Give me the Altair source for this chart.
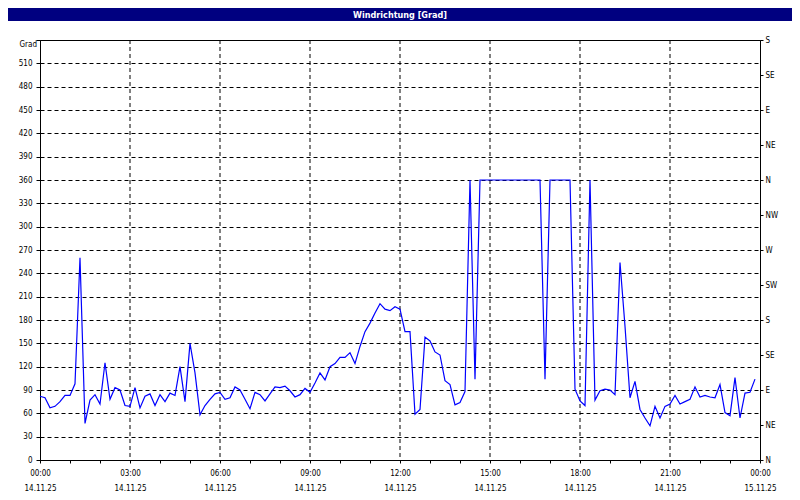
import json
import altair as alt
import pandas as pd

# ---- data (10-minute samples, 14.11.25 00:00 .. 23:50) ----
wind_dir = [
    82, 80, 67, 69, 75, 83, 83, 98, 260, 47,
    77, 84, 72, 125, 78, 93, 90, 70, 69, 93,
    67, 82, 85, 70, 84, 75, 86, 83, 120, 75,
    150, 112, 58, 70, 78, 85, 87, 78, 80, 94,
    90, 78, 66, 87, 84, 76, 85, 94, 93, 95,
    89, 81, 84, 92, 87, 99, 112, 103, 120, 124,
    132, 132, 138, 124, 146, 165, 176, 189, 201, 194,
    192, 197, 194, 165, 165, 59, 65, 158, 153, 139,
    135, 102, 97, 71, 74, 88, 360, 104, 360, 360,
    360, 360, 360, 360, 360, 360, 360, 360, 360, 360,
    360, 104, 360, 360, 360, 360, 360, 91, 76, 70,
    360, 77, 89, 91, 90, 84, 254, 172, 80, 101,
    65, 54, 44, 69, 54, 69, 72, 83, 72, 75,
    78, 94, 81, 83, 81, 80, 97, 61, 57, 106,
    54, 86, 87, 104,
]
step_minutes = 10
hours = [i * step_minutes / 60 for i in range(len(wind_dir))]

time_labels = ["00:00", "03:00", "06:00", "09:00", "12:00", "15:00", "18:00", "21:00", "00:00"]
date_labels = ["14.11.25"] * 8 + ["15.11.25"]
grid_hours = [3, 6, 9, 12, 15, 18, 21]
left_ticks = list(range(0, 541, 30))
right_ticks = list(range(0, 541, 45))
compass = ["N", "NE", "E", "SE", "S", "SW", "W", "NW", "N", "NE", "E", "SE", "S"]
title_text = "Windrichtung [Grad]"
unit_text = "Grad"

df = pd.DataFrame({"h": hours, "v": wind_dir})
grid_df = pd.DataFrame({"h": grid_hours})

FONT = "Liberation Sans Narrow, DejaVu Sans Condensed, Liberation Sans, sans-serif"
NAVY = "#000080"

x_label_expr = (
    "datum.value % 3 == 0 ? ["
    + json.dumps(time_labels) + "[datum.value/3], "
    + json.dumps(date_labels) + "[datum.value/3]] : ''"
)
right_label_expr = json.dumps(compass) + "[round(datum.value/45)]"

x_scale = alt.Scale(domain=[0, 24], nice=False, zero=False)
y_scale = alt.Scale(domain=[0, 540], nice=False)

x_axis = alt.Axis(
    values=list(range(25)), labelExpr=x_label_expr, tickSize=3, labelPadding=6,
    labelLineHeight=15, labelOverlap=False, labelFlush=False, labelAngle=0,
    labelBound=False, grid=False, title=None, domainColor="black", tickColor="black",
    labelColor="black", labelFontSize=8, labelFont=FONT,
)
y_axis_left = alt.Axis(
    values=left_ticks, labelExpr="datum.value == 540 ? '' : datum.label",
    grid=True, gridDash=[4, 3], gridColor="black", gridOpacity=1,
    tickSize=7, tickDash=[4, 3], tickColor="black", labelPadding=1,
    domainColor="black", title=None, labelColor="black",
    labelFontSize=8, labelFont=FONT, labelOverlap=False,
)
y_axis_right = alt.Axis(
    orient="right", values=right_ticks, labelExpr=right_label_expr,
    grid=False, tickSize=3, tickColor="black", labelPadding=2,
    domainColor="black", title=None, labelColor="black",
    labelFontSize=8, labelFont=FONT, labelOverlap=False,
)

vgrid = alt.Chart(grid_df).mark_rule(color="black", strokeDash=[4, 3], strokeWidth=1).encode(
    x=alt.X("h:Q", scale=x_scale, axis=x_axis)
)

line = alt.Chart(df).mark_line(color="#0000ff", strokeWidth=1.2, interpolate="linear").encode(
    x=alt.X("h:Q", scale=x_scale, axis=x_axis),
    y=alt.Y("v:Q", scale=y_scale, axis=y_axis_left),
)

right = alt.Chart(df).mark_point(opacity=0).encode(
    x=alt.X("h:Q", scale=x_scale, axis=x_axis),
    y=alt.Y("v:Q", scale=y_scale, axis=y_axis_right),
)

one = alt.Data(values=[{"t": title_text, "u": unit_text}])

title_bar = alt.Chart(one).mark_rect(color=NAVY).encode(
    x=alt.value(-32), x2=alt.value(752), y=alt.value(-32), y2=alt.value(-19)
)
title = alt.Chart(one).mark_text(
    color="white", font=FONT, fontSize=9, fontWeight="bold", baseline="middle", align="center"
).encode(x=alt.value(360), y=alt.value(-25.5), text="t:N")
unit = alt.Chart(one).mark_text(
    color="black", font=FONT, fontSize=8, align="right", baseline="middle"
).encode(x=alt.value(-3), y=alt.value(5), text="u:N")

chart = (
    alt.layer(vgrid, line, right, title_bar, title, unit)
    .resolve_axis(y="independent")
    .properties(
        width=720, height=420,
        autosize=alt.AutoSizeParams(type="none"),
        padding={"left": 32, "top": 32, "right": 32, "bottom": 32},
        background="white",
    )
    .configure_view(stroke="black", strokeWidth=1)
    .configure_axis(labelOverlap=False)
)

chart.save("out.html", embed_options={"renderer": "svg", "actions": False})
